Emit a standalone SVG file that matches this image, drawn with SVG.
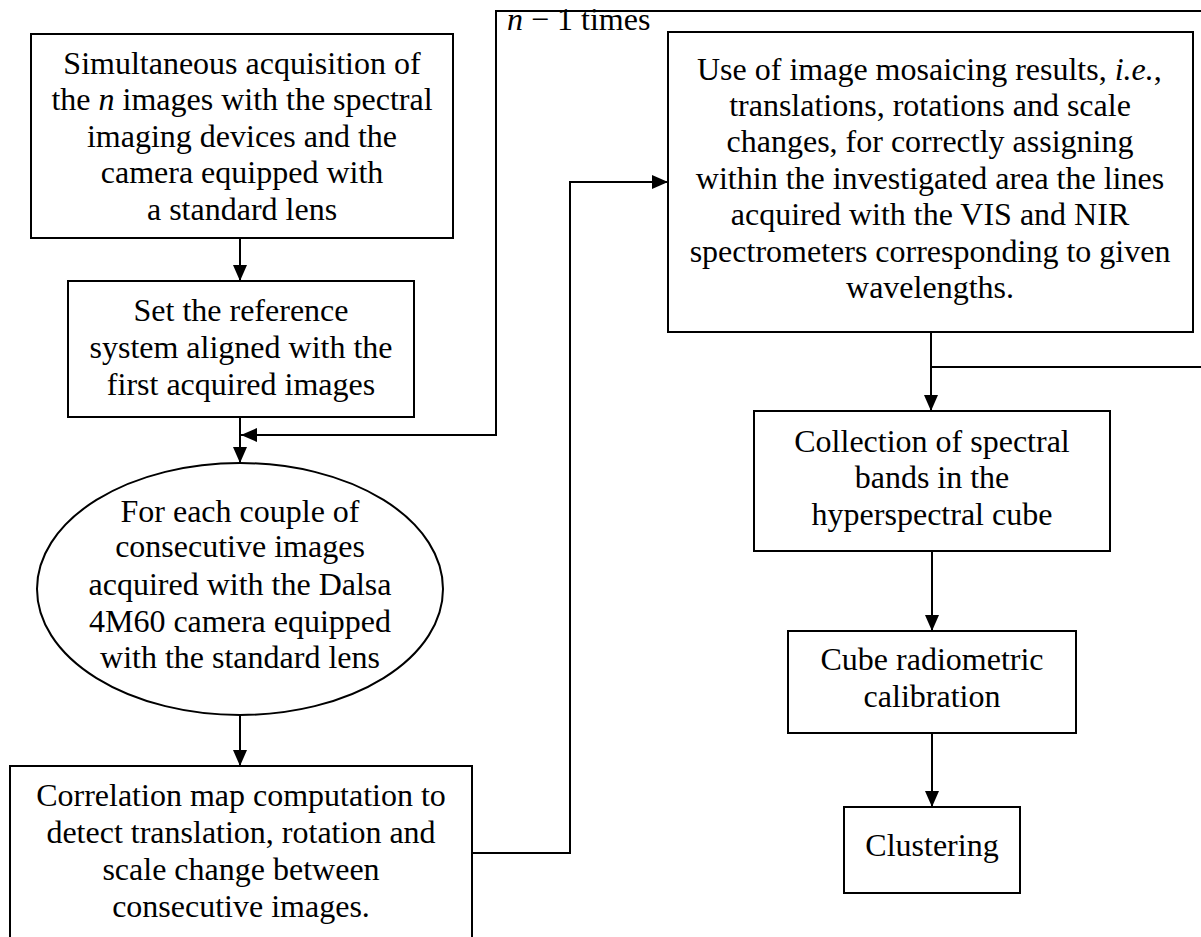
<svg xmlns="http://www.w3.org/2000/svg" width="1201" height="937" viewBox="0 0 1201 937">
  <style>
    .box { fill: #ffffff; stroke: #000000; stroke-width: 2; }
    .wire { fill: none; stroke: #000000; stroke-width: 2; }
    text { font-family: "Liberation Serif", "Times New Roman", serif; font-size: 32px; fill: #000000; }
    .c { text-anchor: middle; }
    .it { font-style: italic; }
  </style>
  <defs>
    <marker id="arrow" markerUnits="userSpaceOnUse" markerWidth="16" markerHeight="14" refX="16" refY="7" orient="auto">
      <path d="M0,0 L16,7 L0,14 z" fill="#000000"/>
    </marker>
  </defs>
  <rect width="1201" height="937" fill="#ffffff"/>

  <!-- connectors -->
  <g id="connectors">
    <path class="wire" d="M240,238 V281" marker-end="url(#arrow)"/>
    <path class="wire" d="M240,417 V463" marker-end="url(#arrow)"/>
    <path class="wire" d="M1201,11 H496 V435 H241" marker-end="url(#arrow)"/>
    <path class="wire" d="M240,715 V766" marker-end="url(#arrow)"/>
    <path class="wire" d="M472,853 H570 V182 H668" marker-end="url(#arrow)"/>
    <path class="wire" d="M931,332 V411" marker-end="url(#arrow)"/>
    <path class="wire" d="M931,367 H1201"/>
    <path class="wire" d="M932,551 V631" marker-end="url(#arrow)"/>
    <path class="wire" d="M932,733 V807" marker-end="url(#arrow)"/>
  </g>

  <text x="507" y="30"><tspan class="it">n</tspan> − 1 times</text>

  <g id="acquisition">
    <rect class="box" x="31" y="34" width="422" height="204"/>
    <text class="c" x="242" y="74">Simultaneous acquisition of</text>
    <text class="c" x="242" y="110">the <tspan class="it">n</tspan> images with the spectral</text>
    <text class="c" x="242" y="147">imaging devices and the</text>
    <text class="c" x="242" y="183">camera equipped with</text>
    <text class="c" x="242" y="220">a standard lens</text>
  </g>

  <g id="reference-system">
    <rect class="box" x="68" y="281" width="346" height="136"/>
    <text class="c" x="241" y="321">Set the reference</text>
    <text class="c" x="241" y="358">system aligned with the</text>
    <text class="c" x="241" y="395">first acquired images</text>
  </g>

  <g id="each-couple">
    <ellipse class="box" cx="240" cy="589" rx="203" ry="126"/>
    <text class="c" x="240" y="522">For each couple of</text>
    <text class="c" x="240" y="557">consecutive images</text>
    <text class="c" x="240" y="595">acquired with the Dalsa</text>
    <text class="c" x="240" y="632">4M60 camera equipped</text>
    <text class="c" x="240" y="668">with the standard lens</text>
  </g>

  <g id="correlation">
    <rect class="box" x="10" y="766" width="462" height="200"/>
    <text class="c" x="241" y="806">Correlation map computation to</text>
    <text class="c" x="241" y="843">detect translation, rotation and</text>
    <text class="c" x="241" y="880">scale change between</text>
    <text class="c" x="241" y="917">consecutive images.</text>
  </g>

  <g id="mosaicing">
    <rect class="box" x="668" y="32" width="525" height="300"/>
    <text x="697" y="80">Use of image mosaicing results, <tspan class="it">i.e.</tspan>,</text>
    <text class="c" x="930" y="116">translations, rotations and scale</text>
    <text class="c" x="930" y="152">changes, for correctly assigning</text>
    <text class="c" x="930" y="189">within the investigated area the lines</text>
    <text class="c" x="930" y="225">acquired with the VIS and NIR</text>
    <text class="c" x="930" y="262">spectrometers corresponding to given</text>
    <text class="c" x="930" y="298">wavelengths.</text>
  </g>

  <g id="collection">
    <rect class="box" x="754" y="411" width="356" height="140"/>
    <text class="c" x="932" y="452">Collection of spectral</text>
    <text class="c" x="932" y="488">bands in the</text>
    <text class="c" x="932" y="525">hyperspectral cube</text>
  </g>

  <g id="calibration">
    <rect class="box" x="788" y="631" width="288" height="102"/>
    <text class="c" x="932" y="670">Cube radiometric</text>
    <text class="c" x="932" y="707">calibration</text>
  </g>

  <g id="clustering">
    <rect class="box" x="844" y="807" width="176" height="86"/>
    <text class="c" x="932" y="856">Clustering</text>
  </g>
</svg>
